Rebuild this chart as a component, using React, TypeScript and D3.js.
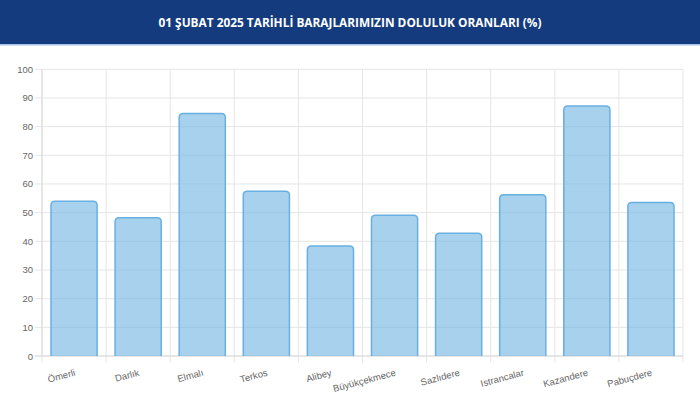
import React from "react";
import * as d3 from "d3";

const title = "01 ŞUBAT 2025 TARİHLİ BARAJLARIMIZIN DOLULUK ORANLARI (%)";
const dams = ["Ömerli", "Darlık", "Elmalı", "Terkos", "Alibey", "Büyükçekmece", "Sazlıdere", "Istrancalar", "Kazandere", "Pabuçdere"];
const fillRates = [54.0, 48.2, 84.6, 57.5, 38.4, 49.1, 42.8, 56.2, 87.2, 53.5];
const yTicks = [0, 10, 20, 30, 40, 50, 60, 70, 80, 90, 100];

const W = 700, H = 416;
const m = { left: 42, right: 683, top: 69.3, bottom: 356 };

export default function App() {
  const x = d3.scaleBand<string>().domain(dams).range([m.left, m.right]).paddingInner(0).paddingOuter(0);
  const y = d3.scaleLinear().domain([0, 100]).range([m.bottom, m.top]);
  const bw = x.bandwidth() * 0.72;
  const r = 4;
  const grid = "#e5e5e5";
  const barPath = (cx: number, top: number) => {
    const x0 = cx - bw / 2, x1 = cx + bw / 2, b = y(0);
    return `M${x0},${b}L${x0},${top + r}Q${x0},${top} ${x0 + r},${top}L${x1 - r},${top}Q${x1},${top} ${x1},${top + r}L${x1},${b}`;
  };
  return (
    <svg width={W} height={H} style={{ position: "absolute", left: 0, top: 0, background: "#fff" }}>
      <rect x={0} y={0} width={W} height={44} fill="#133b7d" />
      <rect x={0} y={44} width={W} height={1.5} fill="#a8c2e6" />
      <text x={350} y={27} textAnchor="middle" fill="#fff" fontFamily="'Open Sans', sans-serif" fontWeight={700}
        fontSize={13} textLength={383} lengthAdjust="spacingAndGlyphs">{title}</text>
      {yTicks.map(t => (
        <g key={t}>
          <line x1={35} x2={m.right} y1={y(t)} y2={y(t)} stroke={grid} strokeWidth={1} />
          <text x={33} y={y(t) + 3.5} textAnchor="end" fill="#666" fontSize={9.5} fontFamily="'Liberation Sans', Arial, sans-serif">{t}</text>
        </g>
      ))}
      {dams.map((d, i) => (
        <line key={"v" + i} x1={x(d)!} x2={x(d)!} y1={m.top} y2={362.5} stroke={grid} strokeWidth={1} />
      ))}
      <line x1={m.right} x2={m.right} y1={m.top} y2={362.5} stroke={grid} strokeWidth={1} />
      <line x1={m.left} x2={m.left} y1={m.top} y2={m.bottom} stroke="#d9d9d9" strokeWidth={1} />
      <line x1={35} x2={m.right} y1={m.bottom} y2={m.bottom} stroke="#d9d9d9" strokeWidth={1} />
      {dams.map((d, i) => {
        const cx = x(d)! + x.bandwidth() / 2;
        return (
          <path key={"b" + i} d={barPath(cx, y(fillRates[i]))} fill="rgba(120,185,228,0.65)" stroke="#68b0e2" strokeWidth={1.5} />
        );
      })}
      {dams.map((d, i) => {
        const cx = x(d)! + x.bandwidth() / 2;
        return (
          <text key={"l" + i} transform={`translate(${cx},${369}) rotate(-15)`} textAnchor="end" fill="#666"
            fontSize={9.5} fontFamily="'Liberation Sans', Arial, sans-serif" dy="0.7em">{d}</text>
        );
      })}
    </svg>
  );
}
